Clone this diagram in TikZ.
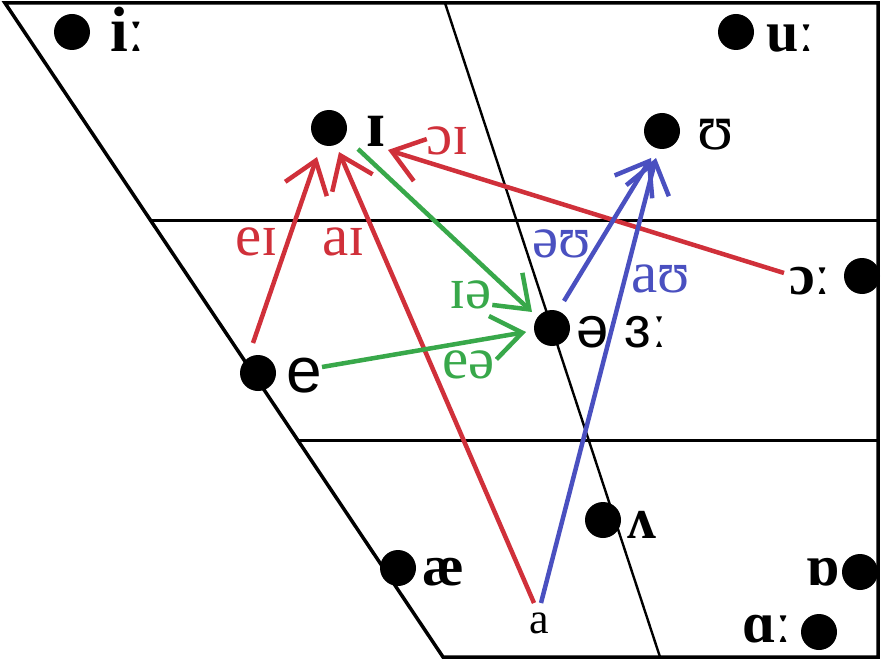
\documentclass[tikz,border=0pt]{standalone}
\usepackage{fontspec}
\setmainfont{Liberation Serif}
\newfontfamily\sansipa{Liberation Sans}
\usetikzlibrary{arrows.meta}
\definecolor{dred}{HTML}{D0303A}
\definecolor{dgreen}{HTML}{38A84A}
\definecolor{dblue}{HTML}{4A50C0}
\begin{document}
\begin{tikzpicture}[x=1pt,y=-1pt,
  frame/.style={line width=3.5pt,line join=miter},
  grid/.style={line width=3pt},
  inner/.style={line width=2.4pt},
  dot/.style={circle,fill=black,inner sep=0pt,minimum size=36pt},
  vlab/.style={anchor=base west,inner sep=0pt,font=\bfseries\fontsize{58}{58}\selectfont},
  slab/.style={anchor=base west,inner sep=0pt,font=\sansipa\fontsize{58}{58}\selectfont},
  dlab/.style={anchor=base west,inner sep=0pt,font=\fontsize{59}{59}\selectfont},
  arr/.style={line width=4.5pt,-{Straight Barb[length=30pt,width=44pt]}},
]
\useasboundingbox (0,0) rectangle (882,660);
% frame
\coordinate (TL) at (5,3);
\coordinate (TR) at (878,3);
\coordinate (BR) at (878,657);
\coordinate (BL) at (443,657);
\draw[frame] (TL) -- (TR) -- (BR) -- (BL) -- cycle;
\coordinate (H1L) at (150,220); \coordinate (H1R) at (878,220);
\coordinate (H2L) at (298,440); \coordinate (H2R) at (878,440);
\coordinate (MT) at (445,3); \coordinate (MB) at (660,657);
\draw[grid] (H1L) -- (H1R);
\draw[grid] (H2L) -- (H2R);
\draw[inner] (MT) -- (MB);
% dots
\node[dot] (i) at (72,32) {};
\node[dot] (I) at (329,128) {};
\node[dot] (u) at (736,32) {};
\node[dot] (U) at (662,131) {};
\node[dot] (o) at (862,276) {};
\node[dot] (e) at (258,373) {};
\node[dot] (schwa) at (552,328) {};
\node[dot] (V) at (603,520) {};
\node[dot] (ae) at (398,568) {};
\node[dot] (Q) at (860,572) {};
\node[dot] (A) at (819,632) {};
% vowel labels
\node[vlab,font=\bfseries\fontsize{64}{64}\selectfont] (li) at (110,52) {iː};
\node[vlab,font=\bfseries\fontsize{66}{66}\selectfont] (lI) at (366,147) {ɪ};
\node[vlab] (lu) at (766,52) {uː};
\node[vlab,font=\fontsize{66}{66}\selectfont] (lU) at (697,150) {ʊ};
\node[vlab] (lo) at (789,294) {ɔː};
\node[slab,font=\sansipa\fontsize{64}{64}\selectfont] (le) at (286,392) {e};
\node[slab] (lschwa) at (576,347) {ə ɜː};
\node[vlab] (lV) at (627,538) {ʌ};
\node[vlab] (lae) at (422,585) {æ};
\node[vlab] (lQ) at (806,585) {ɒ};
\node[vlab] (lA) at (742,642) {ɑː};
\node[anchor=base west,inner sep=0pt,font=\fontsize{44}{44}\selectfont] (la) at (529,633) {a};
% arrow end points
\coordinate (eIs) at (253,343); \coordinate (eIt) at (317,157);
\coordinate (aIs) at (534,603); \coordinate (aIt) at (339,152);
\coordinate (oIs) at (784,273); \coordinate (oIt) at (388,150);
\coordinate (Ies) at (358,149); \coordinate (Iet) at (532,312);
\coordinate (ees) at (322,367); \coordinate (eet) at (526,332);
\coordinate (eUs) at (564,301); \coordinate (eUt) at (651,158);
\coordinate (aUs) at (541,603); \coordinate (aUt) at (656,158);
\draw[arr,dred] (eIs) -- (eIt);
\draw[arr,dred] (aIs) -- (aIt);
\draw[arr,dred] (oIs) -- (oIt);
\draw[arr,dgreen] (Ies) -- (Iet);
\draw[arr,dgreen] (ees) -- (eet);
\draw[arr,dblue] (eUs) -- (eUt);
\draw[arr,dblue] (aUs) -- (aUt);
% diphthong labels
\node[dlab,dred] (leI) at (235,255) {eɪ};
\node[dlab,dred] (laI) at (322,255) {aɪ};
\node[dlab,dred] (loI) at (426,155) {ɔɪ};
\node[dlab,dgreen] (lIe) at (449,308) {ɪə};
\node[dlab,dgreen] (lee) at (442,378) {eə};
\node[dlab,dblue] (leU) at (532,257) {əʊ};
\node[dlab,dblue] (laU) at (631,292) {aʊ};
\end{tikzpicture}
\end{document}
